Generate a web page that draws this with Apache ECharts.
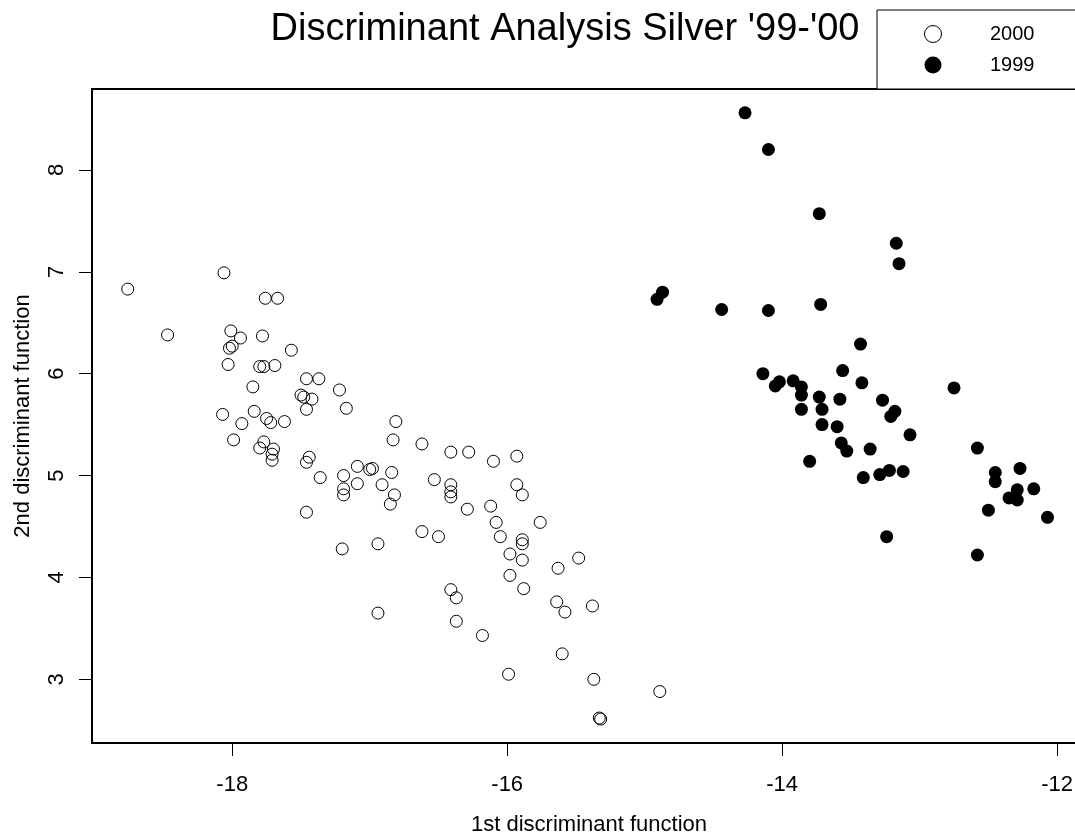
<!DOCTYPE html>
<html>
<head>
<meta charset="utf-8">
<script src="https://cdn.jsdelivr.net/npm/echarts@6/dist/echarts.min.js"></script>
<style>
  html, body { margin: 0; padding: 0; background: #fff; }
  #chart { width: 1075px; height: 835px; }
</style>
</head>
<body>
<div id="chart"></div>
<script>
// 2000: open circles, [1st discriminant, 2nd discriminant]
const pts2000 = [
  [-18.76, 6.83], [-18.06, 6.99], [-17.76, 6.74], [-17.67, 6.74], [-18.47, 6.38],
  [-18.01, 6.42], [-17.94, 6.35], [-17.78, 6.37], [-18.00, 6.27], [-18.02, 6.25],
  [-17.57, 6.23], [-18.03, 6.09], [-17.80, 6.07], [-17.77, 6.07], [-17.69, 6.08],
  [-17.46, 5.95], [-17.37, 5.95], [-17.85, 5.87], [-17.50, 5.79], [-17.48, 5.77],
  [-17.42, 5.75], [-17.46, 5.65], [-17.22, 5.84], [-17.17, 5.66], [-18.07, 5.60],
  [-17.84, 5.63], [-17.93, 5.51], [-17.75, 5.56], [-17.72, 5.52], [-17.62, 5.53],
  [-16.81, 5.53], [-16.83, 5.35], [-17.99, 5.35], [-17.77, 5.33], [-17.80, 5.27],
  [-17.70, 5.26], [-17.71, 5.21], [-17.71, 5.15], [-17.44, 5.18], [-17.46, 5.13],
  [-17.36, 4.98], [-17.19, 5.00], [-17.09, 5.09], [-17.00, 5.06], [-16.98, 5.07],
  [-16.84, 5.03], [-17.19, 4.87], [-17.19, 4.81], [-17.09, 4.92], [-16.91, 4.91],
  [-16.82, 4.81], [-16.62, 5.31], [-16.41, 5.23], [-16.28, 5.23], [-16.10, 5.14],
  [-15.93, 5.19], [-16.85, 4.72], [-16.53, 4.96], [-16.41, 4.91], [-16.41, 4.84],
  [-16.41, 4.79], [-16.29, 4.67], [-16.12, 4.70], [-15.93, 4.91], [-15.89, 4.81],
  [-16.08, 4.54], [-16.05, 4.40], [-15.76, 4.54], [-15.89, 4.37], [-15.89, 4.33],
  [-15.98, 4.23], [-15.89, 4.17], [-15.98, 4.02], [-15.88, 3.89], [-15.63, 4.09],
  [-15.48, 4.19], [-16.62, 4.45], [-16.50, 4.40], [-16.94, 4.33], [-16.94, 3.65],
  [-16.41, 3.88], [-16.37, 3.80], [-16.37, 3.57], [-16.18, 3.43], [-15.64, 3.76],
  [-15.58, 3.66], [-15.38, 3.72], [-15.60, 3.25], [-15.99, 3.05], [-15.37, 3.00],
  [-14.89, 2.88], [-15.33, 2.62], [-15.32, 2.61], [-17.46, 4.64], [-17.20, 4.28]
];

// 1999: filled circles
const pts1999 = [
  [-14.27, 8.56], [-14.10, 8.20], [-13.73, 7.57], [-13.17, 7.28], [-13.15, 7.08],
  [-14.91, 6.73], [-14.87, 6.80], [-14.44, 6.63], [-14.10, 6.62], [-13.72, 6.68],
  [-13.43, 6.29], [-14.14, 6.00], [-14.02, 5.92], [-14.05, 5.88], [-13.92, 5.93],
  [-13.86, 5.87], [-13.56, 6.03], [-13.42, 5.91], [-12.75, 5.86], [-13.86, 5.79],
  [-13.73, 5.77], [-13.58, 5.75], [-13.86, 5.65], [-13.71, 5.65], [-13.27, 5.74],
  [-13.18, 5.63], [-13.21, 5.58], [-13.71, 5.50], [-13.60, 5.48], [-13.07, 5.40],
  [-13.57, 5.32], [-13.53, 5.24], [-13.36, 5.26], [-13.80, 5.14], [-13.41, 4.98],
  [-13.29, 5.01], [-13.22, 5.05], [-13.12, 5.04], [-13.24, 4.40], [-12.58, 5.27],
  [-12.45, 5.03], [-12.45, 4.94], [-12.27, 5.07], [-12.29, 4.86], [-12.35, 4.78],
  [-12.29, 4.76], [-12.17, 4.87], [-12.50, 4.66], [-12.07, 4.59], [-12.58, 4.22]
];

const xTicks = [-18, -16, -14, -12];
const yTicks = [3, 4, 5, 6, 7, 8];
const seriesNames = ['2000', '1999'];

const font = '"Liberation Sans", Arial, sans-serif';
const chart = echarts.init(document.getElementById('chart'));

chart.setOption({
  animation: false,
  backgroundColor: '#fff',
  textStyle: { fontFamily: font, color: '#000' },
  title: {
    text: "Discriminant Analysis Silver '99-'00",
    left: 560,
    textAlign: 'center',
    top: 6,
    textStyle: { fontFamily: font, fontSize: 38, fontWeight: 'normal', color: '#000' }
  },
  graphic: [
    {
      type: 'rect',
      shape: { x: 877, y: 10, width: 260, height: 79 },
      style: { fill: '#fff', stroke: '#000', lineWidth: 1 },
      z: 1
    }
  ],
  legend: {
    orient: 'vertical',
    left: 924,
    top: 24,
    itemWidth: 18,
    itemHeight: 17,
    itemGap: 11,
    padding: 0,
    z: 10,
    textStyle: { fontFamily: font, fontSize: 20, color: '#000', padding: [0, 0, 0, 43] },
    data: [
      { name: seriesNames[0], icon: 'circle',
        itemStyle: { color: 'rgba(0,0,0,0)', borderColor: '#000', borderWidth: 1 } },
      { name: seriesNames[1], icon: 'circle', itemStyle: { color: '#000' } }
    ]
  },
  grid: {
    left: 92,
    top: 89,
    width: 994,
    height: 654,
    outerBoundsMode: 'none',
    containLabel: false,
    show: true,
    borderColor: '#000',
    borderWidth: 2,
    backgroundColor: 'rgba(0,0,0,0)'
  },
  xAxis: {
    type: 'value',
    min: -19.02,
    max: -11.79,
    name: '1st discriminant function',
    nameLocation: 'middle',
    nameGap: 71,
    nameTextStyle: { fontFamily: font, fontSize: 22, color: '#000' },
    axisLine: { show: false },
    splitLine: { show: false },
    axisTick: { show: true, length: 13, customValues: xTicks, lineStyle: { color: '#000', width: 1 } },
    axisLabel: { customValues: xTicks, margin: 31, fontSize: 22, color: '#000', fontFamily: font }
  },
  yAxis: {
    type: 'value',
    min: 2.375,
    max: 8.794,
    name: '2nd discriminant function',
    nameLocation: 'middle',
    nameRotate: 90,
    nameGap: 58,
    nameTextStyle: { fontFamily: font, fontSize: 22, color: '#000' },
    axisLine: { show: false },
    splitLine: { show: false },
    axisTick: { show: true, length: 13, customValues: yTicks, lineStyle: { color: '#000', width: 1 } },
    axisLabel: { customValues: yTicks, rotate: 90, margin: 24, fontSize: 22, color: '#000', fontFamily: font }
  },
  series: [
    {
      name: seriesNames[0],
      type: 'scatter',
      symbol: 'circle',
      symbolSize: 12,
      data: pts2000,
      itemStyle: { color: 'rgba(0,0,0,0)', borderColor: '#000', borderWidth: 1, opacity: 1 }
    },
    {
      name: seriesNames[1],
      type: 'scatter',
      symbol: 'circle',
      symbolSize: 13,
      data: pts1999,
      itemStyle: { color: '#000', opacity: 1 }
    }
  ]
});
</script>
</body>
</html>
